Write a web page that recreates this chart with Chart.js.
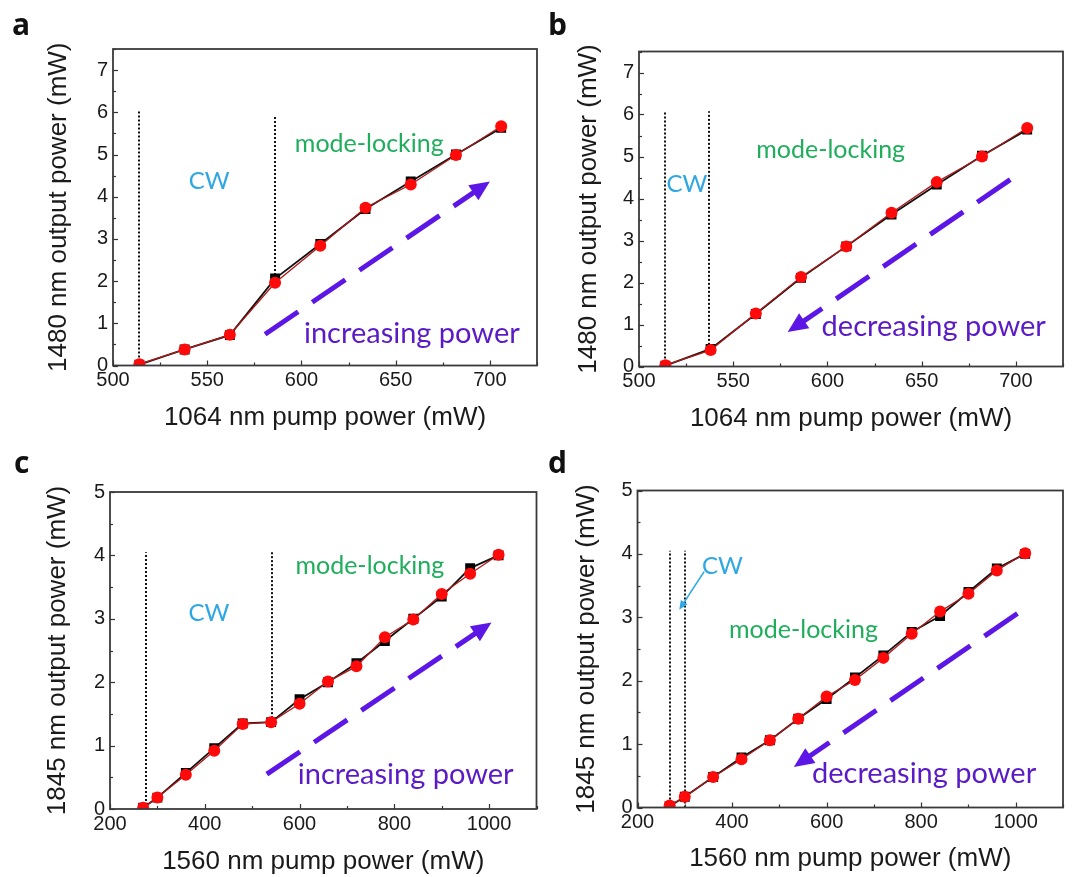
<!doctype html>
<html lang="en">
  <head>
    <meta charset="UTF-8" />
    <title>Pump power vs output power</title>
    <script src="https://cdn.jsdelivr.net/npm/chart.js"></script>
    <style>
      body {
        margin: 0;
        width: 1072px;
        height: 877px;
        position: relative;
        background: #fff;
        overflow: hidden;
      }
      canvas {
        position: absolute;
      }
    </style>
  </head>
  <body>
    <canvas id="panel_a" width="545" height="438" style="left:0;top:0"></canvas>
    <canvas id="panel_b" width="527" height="438" style="left:545px;top:0"></canvas>
    <canvas id="panel_c" width="545" height="439" style="left:0;top:438px"></canvas>
    <canvas id="panel_d" width="527" height="439" style="left:545px;top:438px"></canvas>

    <script>
      // 1064 nm pump -> 1480 nm output (a: increasing, b: decreasing)
      const pump1064 = [514, 538, 562, 586, 610, 634, 658, 682, 706];
      const aSquares = [0.02, 0.38, 0.72, 2.06, 2.88, 3.71, 4.36, 5.0, 5.63];
      const aCircles = [0.03, 0.38, 0.73, 1.96, 2.84, 3.74, 4.29, 4.99, 5.67];
      const bSquares = [0.02, 0.42, 1.25, 2.11, 2.86, 3.62, 4.33, 5.02, 5.64];
      const bCircles = [0.03, 0.39, 1.26, 2.13, 2.86, 3.66, 4.39, 5.0, 5.68];

      // 1560 nm pump -> 1845 nm output (c: increasing, d: decreasing)
      const pump1560c = [270, 300, 360, 420, 480, 540, 600, 660, 720, 780, 840, 900, 960, 1020];
      const cSquares = [0.02, 0.18, 0.57, 0.96, 1.35, 1.37, 1.73, 2.0, 2.3, 2.65, 3.0, 3.35, 3.8, 4.0];
      const cCircles = [0.02, 0.18, 0.54, 0.92, 1.34, 1.37, 1.66, 2.01, 2.25, 2.71, 2.99, 3.39, 3.71, 4.01];
      const pump1560d = [268, 300, 360, 420, 480, 540, 600, 660, 720, 780, 840, 900, 960, 1020];
      const dSquares = [0.02, 0.17, 0.48, 0.79, 1.06, 1.4, 1.71, 2.05, 2.4, 2.77, 3.02, 3.4, 3.77, 4.0];
      const dCircles = [0.03, 0.17, 0.48, 0.76, 1.06, 1.4, 1.75, 2.01, 2.36, 2.74, 3.09, 3.37, 3.74, 4.01];

      const SANS = "'Liberation Sans', Arial, sans-serif";
      const NOTE_FACE = "Lato, 'Open Sans', sans-serif";
      const GREEN = "#1eae5c";
      const BLUE = "#2ea7e3";
      const PURPLE_TEXT = "#5a1bc6";
      const PURPLE = "#5c17e6";

      const pts = (xs, ys) => xs.map((x, i) => ({ x: x, y: ys[i] }));

      function arrow(ctx, x0, y0, x1, y1, o) {
        const dx = x1 - x0, dy = y1 - y0, len = Math.hypot(dx, dy);
        const ux = dx / len, uy = dy / len;
        const bx = x1 - ux * o.head, by = y1 - uy * o.head;
        ctx.strokeStyle = o.color;
        ctx.lineWidth = o.width;
        ctx.setLineDash(o.dash || []);
        ctx.beginPath();
        ctx.moveTo(x0, y0);
        ctx.lineTo(bx + ux * 2, by + uy * 2);
        ctx.stroke();
        ctx.setLineDash([]);
        ctx.fillStyle = o.color;
        ctx.beginPath();
        ctx.moveTo(x1, y1);
        ctx.lineTo(bx - uy * o.half, by + ux * o.half);
        ctx.lineTo(bx + uy * o.half, by - ux * o.half);
        ctx.closePath();
        ctx.fill();
      }

      // dotted guides, notes, arrows, inward ticks, frame and the panel letter
      function decor(d) {
        return {
          id: "decor",
          beforeDatasetsDraw(chart) {
            const { ctx, scales: { x, y } } = chart;
            ctx.save();
            ctx.strokeStyle = "#111";
            ctx.lineWidth = 2;
            ctx.setLineDash([2, 2]);
            d.vlines.forEach(([xv, y0, y1]) => {
              const px = Math.round(x.getPixelForValue(xv));
              ctx.beginPath();
              ctx.moveTo(px, y.getPixelForValue(y0));
              ctx.lineTo(px, y.getPixelForValue(y1));
              ctx.stroke();
            });
            ctx.restore();
          },
          afterDatasetsDraw(chart) {
            const { ctx, scales: { x, y } } = chart;
            ctx.save();
            ctx.textAlign = "center";
            ctx.textBaseline = "middle";
            d.notes.forEach((n) => {
              ctx.font = n.size + "px " + NOTE_FACE;
              ctx.fillStyle = n.color;
              ctx.fillText(n.text, x.getPixelForValue(n.x), y.getPixelForValue(n.y));
            });
            d.arrows.forEach((a) => {
              arrow(
                ctx,
                x.getPixelForValue(a.from[0]), y.getPixelForValue(a.from[1]),
                x.getPixelForValue(a.to[0]), y.getPixelForValue(a.to[1]),
                a
              );
            });
            ctx.restore();
          },
          afterDraw(chart) {
            const { ctx, chartArea: ca, scales: { x, y } } = chart;
            ctx.save();
            ctx.strokeStyle = "#333";
            ctx.lineWidth = 1.2;
            for (let v = x.min; v <= x.max + 1e-9; v += d.xMinor) {
              const major = Math.abs(v / d.xMajor - Math.round(v / d.xMajor)) < 1e-6;
              const px = Math.round(x.getPixelForValue(v)) + 0.5;
              ctx.beginPath();
              ctx.moveTo(px, ca.bottom);
              ctx.lineTo(px, ca.bottom - (major ? 5 : 3));
              ctx.stroke();
            }
            for (let v = y.min; v <= y.max + 1e-9; v += d.yMinor) {
              const major = Math.abs(v - Math.round(v)) < 1e-6;
              const py = Math.round(y.getPixelForValue(v)) + 0.5;
              ctx.beginPath();
              ctx.moveTo(ca.left, py);
              ctx.lineTo(ca.left + (major ? 5 : 3), py);
              ctx.stroke();
            }
            ctx.strokeStyle = "#3a3a3a";
            ctx.lineWidth = 1.8;
            ctx.strokeRect(ca.left, ca.top, ca.right - ca.left, ca.bottom - ca.top);
            ctx.fillStyle = "#111";
            ctx.font = "bold 30px 'Open Sans', sans-serif";
            ctx.textAlign = "left";
            ctx.textBaseline = "alphabetic";
            ctx.fillText(d.letter, d.letterX, 35);
            ctx.restore();
          },
        };
      }

      function panel(id, p) {
        new Chart(document.getElementById(id), {
          type: "line",
          data: {
            datasets: [
              {
                data: pts(p.xs, p.circles),
                borderColor: "#b01818",
                borderWidth: 1.3,
                pointStyle: "circle",
                pointRadius: 6,
                pointBackgroundColor: "#ff0a0a",
                pointBorderWidth: 0,
                order: 0,
              },
              {
                data: pts(p.xs, p.squares),
                borderColor: "#111",
                borderWidth: 1.8,
                pointStyle: "rect",
                pointRadius: 7,
                pointBackgroundColor: "#000",
                pointBorderWidth: 0,
                order: 1,
              },
            ],
          },
          options: {
            responsive: false,
            animation: false,
            layout: { padding: { top: p.top, right: p.right, left: 0, bottom: 0 } },
            plugins: { legend: { display: false }, tooltip: { enabled: false } },
            scales: {
              x: {
                type: "linear",
                min: p.xMin,
                max: p.xMax,
                grid: { display: false, drawTicks: false },
                border: { display: false },
                ticks: {
                  stepSize: p.xMajor,
                  includeBounds: false,
                  maxRotation: 0,
                  autoSkip: false,
                  padding: 3,
                  color: "#1a1a1a",
                  font: { family: SANS, size: 20 },
                  callback: (v) => String(v),
                },
                title: {
                  display: true,
                  text: p.xTitle,
                  color: "#1a1a1a",
                  font: { family: SANS, size: 26 },
                  padding: { top: 0, bottom: p.xTitlePad },
                },
                afterFit: (s) => { s.height = p.xAxisH; },
              },
              y: {
                min: 0,
                max: p.yMax,
                grid: { display: false, drawTicks: false },
                border: { display: false },
                ticks: {
                  stepSize: 1,
                  includeBounds: false,
                  padding: 5,
                  color: "#1a1a1a",
                  font: { family: SANS, size: 20 },
                  callback: (v) => String(v),
                },
                title: {
                  display: true,
                  text: p.yTitle,
                  color: "#1a1a1a",
                  font: { family: SANS, size: 26 },
                  padding: { top: p.yTitlePad, bottom: 0 },
                },
                afterFit: (s) => { s.width = p.yAxisW; },
              },
            },
          },
          plugins: [decor(p.decor)],
        });
      }

      panel("panel_a", {
        xs: pump1064, squares: aSquares, circles: aCircles,
        xMin: 500, xMax: 725, xMajor: 50, yMax: 7.5,
        xTitle: "1064 nm pump power (mW)", yTitle: "1480 nm output power (mW)",
        top: 49, right: 8, yAxisW: 113, xAxisH: 72.5, yTitlePad: 43, xTitlePad: 5,
        decor: {
          letter: "a", letterX: 12, xMinor: 25, xMajor: 50, yMinor: 0.5,
          vlines: [[514, 0, 6.05], [586, 2.05, 5.92]],
          notes: [
            { text: "CW", x: 551, y: 4.36, color: BLUE, size: 24 },
            { text: "mode-locking", x: 636, y: 5.25, color: GREEN, size: 25 },
            { text: "increasing power", x: 658.6, y: 0.75, color: PURPLE_TEXT, size: 29 },
          ],
          arrows: [
            { from: [580.7, 0.74], to: [700, 4.36], color: PURPLE, width: 5, dash: [40, 17], head: 20, half: 9 },
          ],
        },
      });

      panel("panel_b", {
        xs: pump1064, squares: bSquares, circles: bCircles,
        xMin: 500, xMax: 725, xMajor: 50, yMax: 7.5,
        xTitle: "1064 nm pump power (mW)", yTitle: "1480 nm output power (mW)",
        top: 51.5, right: 9, yAxisW: 94, xAxisH: 71.5, yTitlePad: 28, xTitlePad: 4,
        decor: {
          letter: "b", letterX: 3, xMinor: 25, xMajor: 50, yMinor: 0.5,
          vlines: [[514, 0, 6.05], [537, 0.42, 6.08]],
          notes: [
            { text: "CW", x: 525.4, y: 4.34, color: BLUE, size: 24 },
            { text: "mode-locking", x: 601.7, y: 5.16, color: GREEN, size: 25 },
            { text: "decreasing power", x: 656.4, y: 0.96, color: PURPLE_TEXT, size: 29 },
          ],
          arrows: [
            { from: [697, 4.45], to: [578.9, 0.82], color: PURPLE, width: 5, dash: [40, 17], head: 20, half: 9 },
          ],
        },
      });

      panel("panel_c", {
        xs: pump1560c, squares: cSquares, circles: cCircles,
        xMin: 200, xMax: 1100, xMajor: 200, yMax: 5,
        xTitle: "1560 nm pump power (mW)", yTitle: "1845 nm output power (mW)",
        top: 54, right: 8.5, yAxisW: 110, xAxisH: 68, yTitlePad: 42, xTitlePad: 0,
        decor: {
          letter: "c", letterX: 14, xMinor: 100, xMajor: 200, yMinor: 0.5,
          vlines: [[275, 0, 4.05], [541, 1.37, 4.05]],
          notes: [
            { text: "CW", x: 408.7, y: 3.08, color: BLUE, size: 24 },
            { text: "mode-locking", x: 748.4, y: 3.83, color: GREEN, size: 25 },
            { text: "increasing power", x: 824, y: 0.54, color: PURPLE_TEXT, size: 29 },
          ],
          arrows: [
            { from: [531, 0.55], to: [1005, 2.94], color: PURPLE, width: 5, dash: [40, 17], head: 20, half: 9 },
          ],
        },
      });

      panel("panel_d", {
        xs: pump1560d, squares: dSquares, circles: dCircles,
        xMin: 200, xMax: 1100, xMajor: 200, yMax: 5,
        xTitle: "1560 nm pump power (mW)", yTitle: "1845 nm output power (mW)",
        top: 52.5, right: 9, yAxisW: 92.5, xAxisH: 69.5, yTitlePad: 26, xTitlePad: 3,
        decor: {
          letter: "d", letterX: 3, xMinor: 100, xMajor: 200, yMinor: 0.5,
          vlines: [[269, 0, 4.05], [301, 0, 4.05]],
          notes: [
            { text: "CW", x: 379.6, y: 3.8, color: BLUE, size: 24 },
            { text: "mode-locking", x: 551, y: 2.8, color: GREEN, size: 25 },
            { text: "decreasing power", x: 806.2, y: 0.54, color: PURPLE_TEXT, size: 29 },
          ],
          arrows: [
            { from: [340.9, 3.72], to: [288.3, 3.12], color: BLUE, width: 1.6, head: 9, half: 4 },
            { from: [1003.6, 3.06], to: [530.7, 0.64], color: PURPLE, width: 5, dash: [40, 17], head: 20, half: 9 },
          ],
        },
      });
    </script>
  </body>
</html>
